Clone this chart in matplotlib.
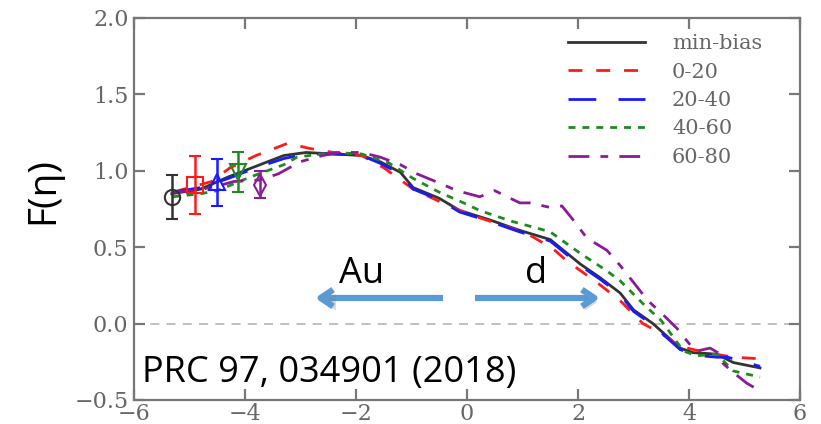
import matplotlib
matplotlib.use("Agg")
import matplotlib.pyplot as plt
import matplotlib.patheffects as pe

# ---------------- data ----------------
x_minbias = [-5.32, -4.8, -4.3, -3.8, -3.3, -2.9, -2.4, -1.9, -1.57, -1.2, -0.97, -0.5, -0.13, 0.4, 0.95, 1.5, 2.04, 2.4, 2.76, 3.0, 3.35, 3.84, 4.07, 4.5, 4.8, 5.28]
y_minbias = [0.85, 0.88, 0.96, 1.03, 1.10, 1.12, 1.11, 1.10, 1.06, 0.99, 0.89, 0.82, 0.74, 0.68, 0.61, 0.55, 0.39, 0.30, 0.20, 0.09, 0.0, -0.16, -0.19, -0.20, -0.255, -0.29]

x_0_20 = [-5.3, -4.9, -4.6, -4.27, -3.8, -3.23, -2.88, -2.6, -2.2, -1.9, -1.5, -0.97, -0.5, 0.0, 0.5, 1.08, 1.55, 1.8, 2.34, 2.76, 3.17, 3.48, 3.84, 4.32, 4.8, 5.28]
y_0_20 = [0.86, 0.90, 0.93, 1.02, 1.10, 1.18, 1.15, 1.13, 1.11, 1.10, 1.02, 0.88, 0.80, 0.72, 0.66, 0.59, 0.49, 0.41, 0.27, 0.15, 0.0, -0.06, -0.15, -0.19, -0.22, -0.23]

x_20_40 = [-5.3, -4.8, -4.3, -3.8, -3.3, -2.9, -2.4, -1.9, -1.57, -1.2, -0.97, -0.5, -0.13, 0.4, 0.95, 1.5, 2.04, 2.4, 2.76, 3.0, 3.35, 3.84, 4.2, 4.5, 4.7, 5.28]
y_20_40 = [0.86, 0.89, 0.95, 1.02, 1.08, 1.11, 1.11, 1.10, 1.05, 0.98, 0.88, 0.81, 0.73, 0.67, 0.60, 0.54, 0.38, 0.29, 0.19, 0.08, -0.01, -0.17, -0.21, -0.22, -0.22, -0.28]

x_40_60 = [-5.3, -4.8, -4.5, -3.9, -3.3, -3.06, -2.4, -1.9, -1.4, -0.97, -0.5, 0.0, 0.23, 0.8, 1.31, 1.5, 2.04, 2.5, 2.76, 3.2, 3.5, 3.9, 4.14, 4.5, 4.8, 5.28]
y_40_60 = [0.83, 0.85, 0.87, 0.96, 1.04, 1.09, 1.12, 1.11, 1.05, 0.95, 0.86, 0.78, 0.74, 0.67, 0.62, 0.60, 0.46, 0.35, 0.28, 0.12, 0.02, -0.18, -0.21, -0.20, -0.31, -0.35]

x_60_80 = [-5.3, -4.9, -4.5, -4.2, -3.73, -3.4, -3.0, -2.6, -2.3, -1.9, -1.57, -1.2, -0.9, -0.5, -0.18, 0.23, 0.5, 0.95, 1.13, 1.5, 1.71, 1.91, 2.16, 2.52, 2.76, 3.26, 3.5, 3.78, 4.0, 4.14, 4.38, 4.52, 4.61, 4.8, 5.04, 5.28]
y_60_80 = [0.86, 0.87, 0.90, 0.93, 0.94, 0.98, 1.06, 1.10, 1.12, 1.12, 1.09, 1.04, 0.98, 0.92, 0.87, 0.83, 0.87, 0.79, 0.79, 0.76, 0.77, 0.68, 0.56, 0.48, 0.38, 0.15, 0.07, -0.03, -0.13, -0.18, -0.16, -0.19, -0.26, -0.32, -0.39, -0.44]

# data points with error bars
pt_x = [-5.32, -4.9, -4.5, -4.13, -3.73]
pt_y = [0.83, 0.91, 0.925, 0.99, 0.91]
pt_err = [0.145, 0.19, 0.155, 0.13, 0.09]

labels = ["min-bias", "0-20", "20-40", "40-60", "60-80"]
colors = ["#333333", "#ff1a1a", "#1a1aff", "#1f8a1f", "#8b1a9b"]
markers = ["o", "s", "^", "v", "d"]

xticks = [-6, -4, -2, 0, 2, 4, 6]
yticks = [-0.5, 0.0, 0.5, 1.0, 1.5, 2.0]

# ---------------- figure ----------------
W, H = 821, 424
fig = plt.figure(figsize=(W / 100, H / 100), dpi=100)
ax = fig.add_axes([134 / W, 1 - 400 / H, (800 - 134) / W, (400 - 18) / H])

styles = [
    dict(ls="-"),
    dict(dashes=(5, 5)),
    dict(dashes=(10, 8)),
    dict(dashes=(2.5, 2.5)),
    dict(dashes=(7.5, 4, 2.8, 4)),
]
series = [(x_minbias, y_minbias), (x_0_20, y_0_20), (x_20_40, y_20_40),
          (x_40_60, y_40_60), (x_60_80, y_60_80)]

for (xs, ys), lab, c, st in zip(series, labels, colors, styles):
    ax.plot(xs, ys, color=c, lw=2, label=lab, **st)

for xv, yv, ev, c, m in zip(pt_x, pt_y, pt_err, colors, markers):
    ax.errorbar([xv], [yv], yerr=[ev], color=c, marker=m, mfc="none", mec=c,
                ms=11, mew=1.5, capsize=4, elinewidth=1.8, capthick=1.8, ls="none")

ax.axhline(0, color="#bbbbbb", lw=1.3, dashes=(5, 4), zorder=0)

ax.set_xlim(-6, 6)
ax.set_ylim(-0.5, 2.0)
ax.set_xticks(xticks)
ax.set_yticks(yticks)
ax.set_xticklabels([("\u2212%d" % -t) if t < 0 else "%d" % t for t in xticks])
ax.set_yticklabels([("\u2212%.1f" % -t) if t < 0 else "%.1f" % t for t in yticks])

grey = "#777777"
for sp in ax.spines.values():
    sp.set_color(grey)
    sp.set_linewidth(1.6)
ax.tick_params(direction="in", length=8, width=1.6, color=grey,
               top=True, right=True, labelcolor="#666666", labelsize=16, pad=4)
ax.tick_params(axis="x", pad=2)
for lab in ax.get_xticklabels() + ax.get_yticklabels():
    lab.set_family("DejaVu Serif")

leg = ax.legend(loc="upper right", frameon=False, handlelength=3.7,
                handletextpad=1.3, labelspacing=0.45,
                prop=dict(family="DejaVu Serif", size=15),
                bbox_to_anchor=(0.962, 0.99), borderaxespad=0.2)
for t in leg.get_texts():
    t.set_color("#666666")

fig.text(43 / W, 1 - 191 / H, "F(\u03b7)", rotation=90, ha="center", va="center",
         fontsize=28, family="Open Sans", color="black")

ax.text(142 / W, 1 - 382 / H, "PRC 97, 034901 (2018)", transform=fig.transFigure,
        ha="left", va="baseline", fontsize=26, family="Open Sans", color="black",
        zorder=10)

fig.text(362 / W, 1 - 283 / H, "Au", ha="center", va="baseline", fontsize=26,
         family="Open Sans", color="black")
fig.text(536 / W, 1 - 283 / H, "d", ha="center", va="baseline", fontsize=26,
         family="Open Sans", color="black")

arrow_c = "#5b9bd5"
for x0, x1 in [(443, 315), (475, 600)]:
    ann = fig.add_artist(matplotlib.text.Annotation(
        "", xy=(x1 / W, 1 - 298 / H), xytext=(x0 / W, 1 - 298 / H),
        xycoords="figure fraction", textcoords="figure fraction",
        arrowprops=dict(arrowstyle="->,head_length=0.9,head_width=0.6",
                        color=arrow_c, lw=4.5, shrinkA=0, shrinkB=0,
                        capstyle="butt")))
    ann.arrow_patch.set_path_effects([
        pe.SimplePatchShadow(offset=(2, -3), alpha=0.3, shadow_rgbFace="gray"),
        pe.Normal()])

fig.savefig("out.png", dpi=100)
